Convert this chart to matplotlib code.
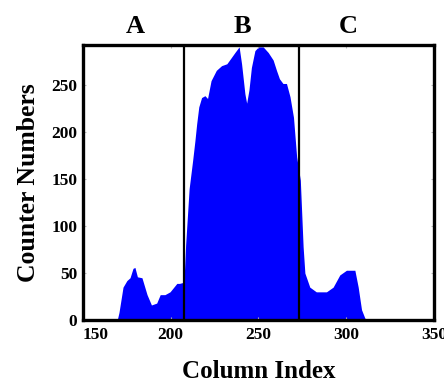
import matplotlib
matplotlib.use("Agg")
import matplotlib.pyplot as plt

# column index / counter numbers
column_index = [150, 169.5, 170.5, 172.8, 175.0, 176.8, 178.5, 179.6, 181.0, 183.6, 186.5, 189.0,
                192.0, 194.0, 196.7, 199.6, 203.5, 205.0, 207.0, 207.6, 208.5, 210.5, 212.5,
                213.8, 214.8, 216.0, 217.6, 219.5, 221.0, 223.0, 226.0, 229.0, 232.0, 234.7,
                236.6, 239.0, 240.4, 242.3, 243.3, 244.6, 246.0, 248.0, 250.0, 252.7, 255.6,
                258.4, 260.3, 262.0, 264.0, 266.0, 268.0, 270.0, 271.8, 273.9, 275.5, 276.5,
                279.3, 283.0, 288.8, 292.6, 296.4, 300.2, 305.0, 306.9, 308.8, 310.7, 312.0, 350]
counter_numbers = [0, 0, 8, 35, 42, 45, 55, 56, 46, 45, 27, 16,
                   18, 27, 27, 30, 39, 39, 40, 42, 80, 140, 170,
                   191, 209, 227, 237, 239, 236, 255, 266, 271, 273, 280,
                   285, 291, 273, 241, 231, 245, 269, 287, 291, 291, 285,
                   277, 266, 257, 252, 252, 238, 216, 174, 149, 78, 50,
                   35, 30, 30, 35, 48, 53, 53, 35, 11, 2, 0, 0]

region_labels = ["A", "B", "C"]
region_label_x = [179.6, 241.0, 301.0]
boundaries = [207.7, 273.2]
x_ticks = [150, 200, 250, 300, 350]
y_ticks = [0, 50, 100, 150, 200, 250]

plt.rcParams['font.family'] = ['Liberation Serif', 'DejaVu Serif']
plt.rcParams['font.weight'] = 'bold'

fig = plt.figure(figsize=(4.44, 3.83), dpi=100)
ax = fig.add_axes([0.187, 0.1645, 0.79, 0.718])

ax.fill_between(column_index, counter_numbers, 0, color='#0000ff', linewidth=0)
for b in boundaries:
    ax.axvline(b, color='black', linewidth=1.6)

ax.set_xlim(150, 350)
ax.set_ylim(0, 293)
ax.set_xticks(x_ticks)
ax.set_yticks(y_ticks)
ax.tick_params(direction='in', length=2.5, width=0.8, color='#bbbbbb',
               top=True, right=True, labelsize=12.5)
ax.tick_params(axis='x', pad=5)
ax.tick_params(axis='y', pad=4)
for lab in ax.get_xticklabels() + ax.get_yticklabels():
    lab.set_fontweight('bold')
ax.get_xticklabels()[0].set_horizontalalignment('left')

for s in ax.spines.values():
    s.set_linewidth(2.4)

for lab, xpos in zip(region_labels, region_label_x):
    ax.text(xpos, 1.025, lab, transform=ax.get_xaxis_transform(), ha='center', va='bottom',
            fontsize=19, fontweight='bold')

ax.set_xlabel("Column Index", fontsize=18, fontweight='bold', labelpad=12)
ax.set_ylabel("Counter Numbers", fontsize=18.5, fontweight='bold', labelpad=8)

fig.savefig("out.png", dpi=100)
